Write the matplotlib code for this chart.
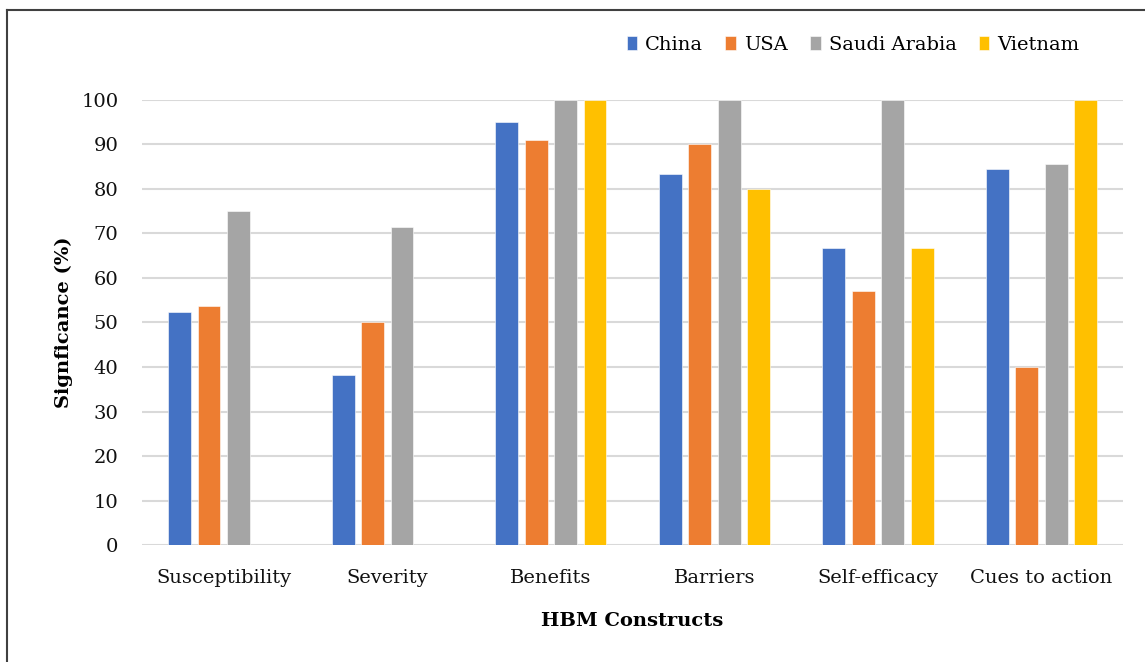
import matplotlib.pyplot as plt
from matplotlib.lines import Line2D
import numpy as np

constructs = ["Susceptibility", "Severity", "Benefits", "Barriers", "Self-efficacy", "Cues to action"]
countries = ["China", "USA", "Saudi Arabia", "Vietnam"]
china = [52.4, 38.1, 95.0, 83.3, 66.7, 84.6]
usa = [53.8, 50.0, 90.9, 90.0, 57.1, 40.0]
saudi = [75.0, 71.4, 100.0, 100.0, 100.0, 85.7]
vietnam = [0, 0, 100.0, 80.0, 66.7, 100.0]
yticks = list(range(0, 101, 10))

colors = ["#4472C4", "#ED7D31", "#A5A5A5", "#FFC000"]

plt.rcParams["font.family"] = ["DejaVu Serif"]

fig = plt.figure(figsize=(11.45, 6.62), dpi=100)
ax = fig.add_axes([0.124, 0.1767, 0.857, 0.6723])

x = np.arange(len(constructs))
width = 0.14
step = 0.18
for i, (vals, name) in enumerate(zip([china, usa, saudi, vietnam], countries)):
    ax.bar(x + (i - 1.5) * step, vals, width, color=colors[i], label=name,
           edgecolor="white", linewidth=0.4, zorder=3)

ax.set_xlim(-0.5, len(constructs) - 0.5)
ax.set_ylim(0, 100)
ax.set_yticks(yticks)
ax.set_xticks(x)
ax.set_xticklabels(constructs)
ax.tick_params(axis="both", length=0, labelsize=14, colors="#111111")
ax.tick_params(axis="x", pad=17)
ax.tick_params(axis="y", pad=17)

ax.grid(axis="y", color="#d9d9d9", linewidth=1.5, zorder=0)
ax.set_axisbelow(True)
for side in ["top", "right", "left", "bottom"]:
    ax.spines[side].set_visible(False)

ax.set_ylabel("Signficance (%)", fontsize=14, fontweight="bold", labelpad=6)
ax.set_xlabel("HBM Constructs", fontsize=14, fontweight="bold", labelpad=18)

leg = fig.legend(loc="center", bbox_to_anchor=(0.745, 0.932), ncol=4, frameon=False,
                 fontsize=14, handlelength=0.55, handleheight=0.75, handletextpad=0.4,
                 columnspacing=1.15)

# outer frame, top and left edges
fig.add_artist(Line2D([0.006, 1.0], [0.985, 0.985], color="#404040", linewidth=1.5))
fig.add_artist(Line2D([0.006, 0.006], [0.0, 0.985], color="#404040", linewidth=1.5))

fig.savefig("out.png", dpi=100, facecolor="white")
